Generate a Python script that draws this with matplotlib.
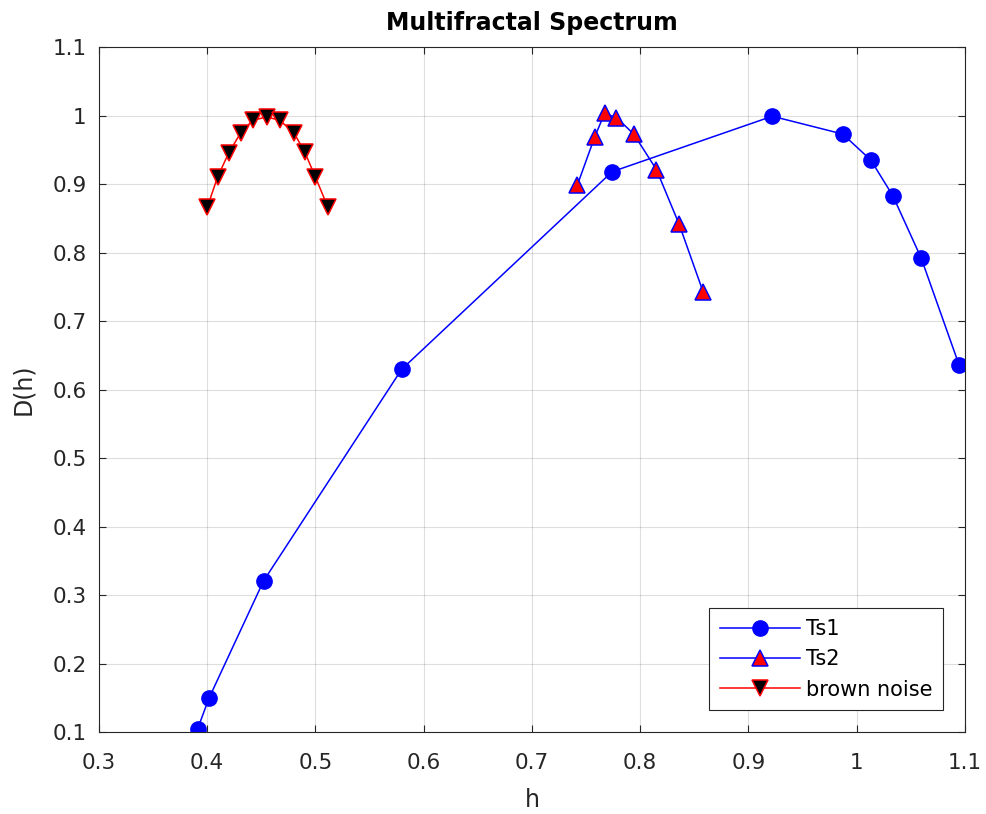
import matplotlib
matplotlib.use("Agg")
import matplotlib.pyplot as plt

# Ts1
h_ts1 = [0.391, 0.4015, 0.452, 0.5796, 0.774, 0.922, 0.987, 1.013, 1.0333, 1.0595, 1.0945]
d_ts1 = [0.104, 0.149, 0.3205, 0.6295, 0.918, 0.999, 0.973, 0.935, 0.883, 0.792, 0.636]

# Ts2
h_ts2 = [0.742, 0.758, 0.767, 0.778, 0.794, 0.815, 0.836, 0.858]
d_ts2 = [0.899, 0.969, 1.003, 0.997, 0.973, 0.921, 0.841, 0.743]

# brown noise
h_bn = [0.400, 0.4095, 0.420, 0.431, 0.442, 0.455, 0.467, 0.480, 0.490, 0.500, 0.5115]
d_bn = [0.866, 0.910, 0.946, 0.975, 0.993, 0.998, 0.993, 0.975, 0.947, 0.910, 0.866]

plt.rcParams['font.family'] = ['DejaVu Sans']
axc = (0.15, 0.15, 0.15)

fig = plt.figure(figsize=(9.86, 8.14), dpi=100)
ax = fig.add_axes([0.1004, 0.1007, 0.8783, 0.8415])

ax.plot(h_ts1, d_ts1, '-o', color='blue', markerfacecolor='blue', markeredgecolor='blue',
        markersize=11, linewidth=1.1, label='Ts1')
ax.plot(h_ts2, d_ts2, '-^', color='blue', markerfacecolor='red', markeredgecolor='blue',
        markersize=12, markeredgewidth=1.1, linewidth=1.1, label='Ts2')
ax.plot(h_bn, d_bn, '-v', color='red', markerfacecolor='black', markeredgecolor='red',
        markersize=12, markeredgewidth=1.1, linewidth=1.1, label='brown noise')

ax.set_xlim(0.3, 1.1)
ax.set_ylim(0.1, 1.1)
xt = [0.3, 0.4, 0.5, 0.6, 0.7, 0.8, 0.9, 1.0, 1.1]
yt = [0.1, 0.2, 0.3, 0.4, 0.5, 0.6, 0.7, 0.8, 0.9, 1.0, 1.1]
ax.set_xticks(xt)
ax.set_xticklabels(['0.3', '0.4', '0.5', '0.6', '0.7', '0.8', '0.9', '1', '1.1'])
ax.set_yticks(yt)
ax.set_yticklabels(['0.1', '0.2', '0.3', '0.4', '0.5', '0.6', '0.7', '0.8', '0.9', '1', '1.1'])
ax.tick_params(direction='in', length=5, width=0.8, colors=axc, labelsize=15.5, top=True, right=True,
               labeltop=False, labelright=False)
ax.tick_params(axis='x', pad=15)
ax.tick_params(axis='y', pad=9)
ax.grid(True, color=(0.15, 0.15, 0.15), alpha=0.15, linewidth=0.8)
for s in ax.spines.values():
    s.set_color(axc)
    s.set_linewidth(0.8)

ax.set_xlabel('h', fontsize=17, color=axc, labelpad=11)
ax.set_ylabel('D(h)', fontsize=17, color=axc, labelpad=12)
ax.set_title('Multifractal Spectrum', fontsize=17, fontweight='bold', color='black', pad=12)

leg = ax.legend(loc='lower right', bbox_to_anchor=(0.9746, 0.032), fontsize=15, fancybox=False,
                framealpha=1, edgecolor=axc, handlelength=3.85, borderpad=0.5, labelspacing=0.5,
                handletextpad=0.3, borderaxespad=0)
leg.get_frame().set_linewidth(0.8)

fig.savefig('out.png', dpi=100)
